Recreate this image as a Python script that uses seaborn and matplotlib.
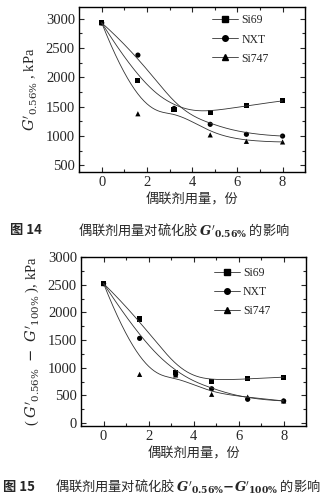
import numpy as np
import pandas as pd
import matplotlib
matplotlib.use("Agg")
import matplotlib.pyplot as plt
from matplotlib.lines import Line2D
from matplotlib.ticker import MultipleLocator
import seaborn as sns

# ---------------- data ----------------
dosage = [0, 1.6, 3.2, 4.8, 6.4, 8]
series = ["Si69", "NXT", "Si747"]

top_si69 = [2930, 1950, 1450, 1400, 1520, 1600]
top_nxt = [2930, 2380, 1470, 1200, 1030, 1000]
top_si747 = [2930, 1380, 1480, 1020, 910, 900]

bot_si69 = [2520, 1880, 920, 750, 800, 830]
bot_nxt = [2520, 1530, 880, 620, 430, 400]
bot_si747 = [2520, 880, 870, 520, 470, 400]

xticks = [0, 2, 4, 6, 8]
top_yticks = [500, 1000, 1500, 2000, 2500, 3000]
bot_yticks = [0, 500, 1000, 1500, 2000, 2500, 3000]

xlabel = "偶联剂用量，份"
top_ylabel = r"$G'_{0.56\%}$ , kPa"
bot_ylabel = r"( $G'_{0.56\%}$  $-$  $G'_{100\%}$ ), kPa"
cap14_num = "图 14"
cap14_txt = r"偶联剂用量对硫化胶 $\mathbfit{G}'_{\mathbf{0.56\%}}$ 的影响"
cap15_num = "图 15"
cap15_txt = r"偶联剂用量对硫化胶 $\mathbfit{G}'_{\mathbf{0.56\%}}\mathbf{-}\mathbfit{G}'_{\mathbf{100\%}}$ 的影响"

markers = {"Si69": "s", "NXT": "o", "Si747": "^"}

sns.set_style("ticks")
plt.rcParams["font.family"] = ["Liberation Serif", "Noto Sans CJK SC", "DejaVu Sans"]
plt.rcParams["mathtext.fontset"] = "dejavuserif"


def bspline(xs, ys, n=200):
    """Clamped cubic B-spline using the data points as control points."""
    P = np.column_stack([xs, ys]).astype(float)
    m = len(P)
    k = 3
    inner = np.linspace(0, 1, m - k + 1)
    knots = np.concatenate([[0] * k, inner, [1] * k])
    t = np.linspace(0, 1, n)
    t[-1] = 1 - 1e-9

    def N(i, p, t):
        if p == 0:
            return ((knots[i] <= t) & (t < knots[i + 1])).astype(float)
        a = 0.0
        d1 = knots[i + p] - knots[i]
        if d1 > 0:
            a = (t - knots[i]) / d1 * N(i, p - 1, t)
        b = 0.0
        d2 = knots[i + p + 1] - knots[i + 1]
        if d2 > 0:
            b = (knots[i + p + 1] - t) / d2 * N(i + 1, p - 1, t)
        return a + b

    B = np.array([N(i, k, t) for i in range(m)])
    C = B.T @ P
    return C[:, 0], C[:, 1]


def build(vals):
    rows, curves = [], []
    for name, v in zip(series, vals):
        for x, y in zip(dosage, v):
            rows.append({"x": x, "y": y, "s": name})
        cx, cy = bspline(dosage, v)
        for i, (a, b) in enumerate(zip(cx, cy)):
            curves.append({"x": a, "y": b, "s": name, "i": i})
    return pd.DataFrame(rows), pd.DataFrame(curves)


fig = plt.figure(figsize=(3.31, 5.01), dpi=100)
ax1 = fig.add_axes([0.239, 0.657, 0.683, 0.329])
ax2 = fig.add_axes([0.245, 0.150, 0.680, 0.337])

lc = "#333333"
for ax, vals, ylim, yt, ylab, leg_y in [
    (ax1, [top_si69, top_nxt, top_si747], (390, 3200), top_yticks, top_ylabel, 0.955),
    (ax2, [bot_si69, bot_nxt, bot_si747], (-50, 3000), bot_yticks, bot_ylabel, 0.94),
]:
    pts, cur = build(vals)
    sns.lineplot(data=cur, x="x", y="y", units="s", estimator=None, sort=False,
                 color=lc, lw=0.6, ax=ax, legend=False)
    sns.scatterplot(data=pts, x="x", y="y", style="s", markers=markers,
                    color="black", s=14, linewidth=0, ax=ax, legend=False)
    ax.set_xlim(-1, 9)
    ax.set_ylim(*ylim)
    ax.set_xticks(xticks)
    ax.set_yticks(yt)
    ax.xaxis.set_minor_locator(MultipleLocator(1))
    ax.yaxis.set_minor_locator(MultipleLocator(250))
    ax.tick_params(which="both", direction="in", top=True, right=True,
                   labelsize=10.5, width=0.8, pad=3)
    ax.tick_params(which="major", length=3.5)
    ax.tick_params(which="minor", length=2)
    for sp in ax.spines.values():
        sp.set_linewidth(1.0)
        sp.set_color("black")
    ax.set_xlabel(xlabel, fontsize=9.5, family=["Noto Sans CJK SC"], labelpad=3)
    ax.set_ylabel(ylab, fontsize=10.5, labelpad=4)
    handles = [Line2D([], [], color=lc, lw=0.6, marker=markers[s], markersize=4,
                      markerfacecolor="black", markeredgecolor="black") for s in series]
    ax.legend(handles, series, loc="upper left", bbox_to_anchor=(0.59, leg_y),
              frameon=False, fontsize=8.5, handlelength=2.2, handletextpad=0.25,
              labelspacing=0.6, borderaxespad=0.0, borderpad=0.0)

fig.text(0.03, 0.54, cap14_num, fontsize=9.5, weight="bold",
         family=["Noto Sans CJK SC"], va="center", ha="left")
fig.text(0.235, 0.54, cap14_txt, fontsize=9.5, family=["Noto Sans CJK SC", "DejaVu Sans"],
         va="center", ha="left")
fig.text(0.01, 0.028, cap15_num, fontsize=9.5, weight="bold",
         family=["Noto Sans CJK SC"], va="center", ha="left")
fig.text(0.165, 0.028, cap15_txt, fontsize=9.5, family=["Noto Sans CJK SC", "DejaVu Sans"],
         va="center", ha="left")

fig.savefig("out.png", dpi=100)
